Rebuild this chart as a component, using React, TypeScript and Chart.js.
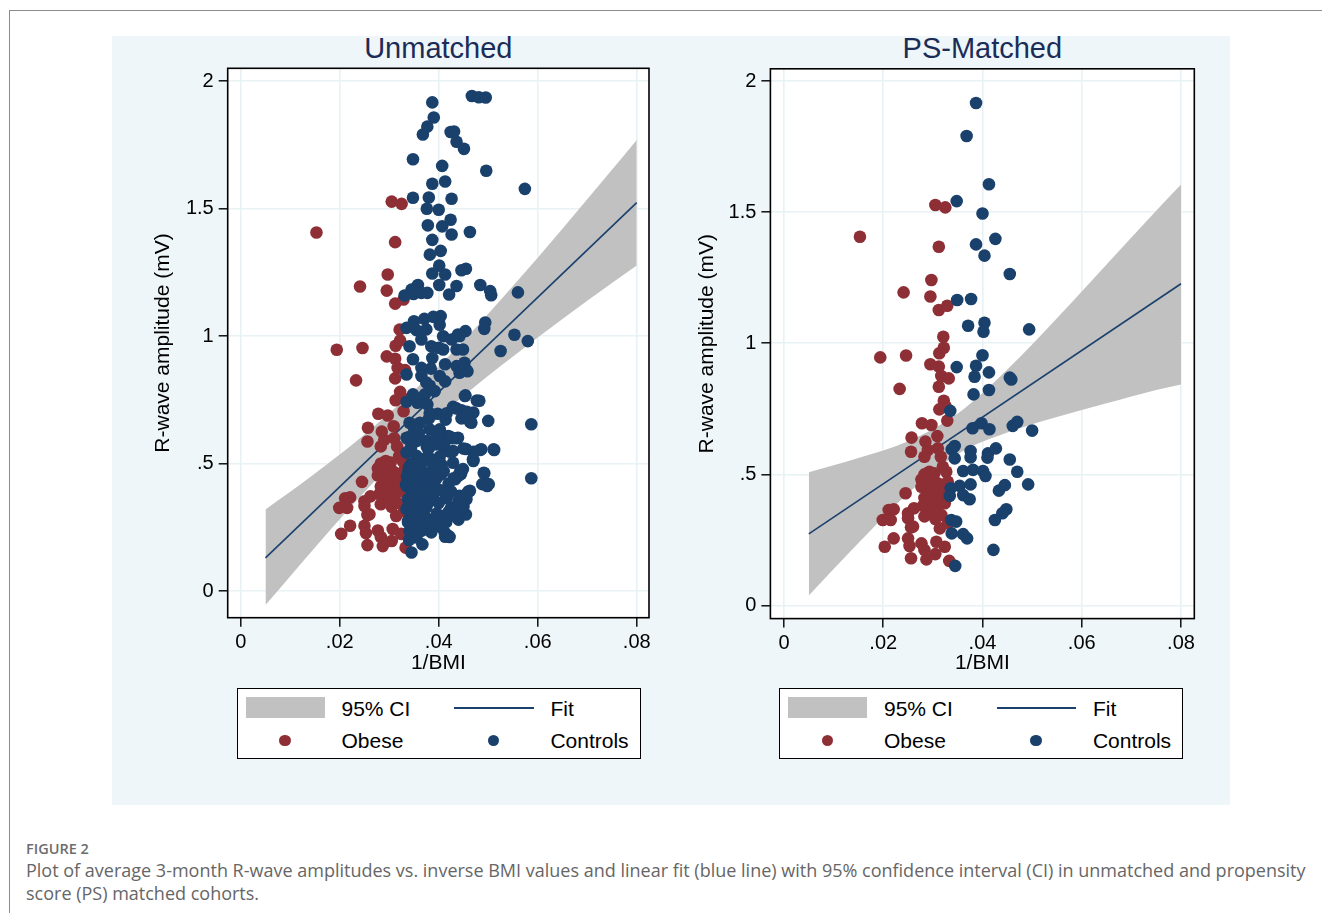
import React, { useEffect, useRef } from 'react';
import { Chart, registerables } from 'chart.js';

Chart.register(...registerables);

const FONT = '"Liberation Sans", Arial, Helvetica, sans-serif';
const NAVY = '#1a406c';
const MAROON = '#8e2f36';
const BAND = '#c1c1c1';
const GRID = '#e8f1f4';
const PANEL = '#eef6f9';

// ---- axis ticks ----
const xTicks = [0, 0.02, 0.04, 0.06, 0.08];
const yTicks = [0, 0.5, 1, 1.5, 2];

// ---- obese cohort (same in both panels) : [1/BMI, R-wave mV] ----
const obese: [number, number][] = [
  [0.0153, 1.406], [0.0305, 1.527], [0.0325, 1.518], [0.0312, 1.368], [0.0297, 1.241], [0.0241, 1.194],
  [0.0295, 1.178], [0.0312, 1.127], [0.0329, 1.143], [0.0321, 1.025], [0.0322, 0.983], [0.0313, 0.962],
  [0.0194, 0.946], [0.0246, 0.953], [0.0295, 0.92], [0.0312, 0.911], [0.0317, 0.875], [0.0332, 0.866],
  [0.0312, 0.834], [0.0233, 0.826], [0.0322, 0.781], [0.0326, 0.758], [0.0313, 0.748], [0.0329, 0.705],
  [0.0278, 0.695], [0.0297, 0.688], [0.0257, 0.64], [0.0309, 0.646], [0.0285, 0.625], [0.029, 0.593],
  [0.0256, 0.586], [0.031, 0.599], [0.0283, 0.567], [0.0316, 0.567], [0.032, 0.529], [0.0303, 0.504],
  [0.0327, 0.51], [0.0293, 0.51], [0.0277, 0.481], [0.029, 0.466], [0.031, 0.466], [0.033, 0.472],
  [0.0277, 0.453], [0.0317, 0.44], [0.029, 0.428], [0.031, 0.415], [0.033, 0.415], [0.0245, 0.428],
  [0.029, 0.39], [0.031, 0.377], [0.0324, 0.39], [0.029, 0.364], [0.0317, 0.345], [0.0211, 0.364],
  [0.0221, 0.367], [0.0199, 0.326], [0.0215, 0.326], [0.025, 0.352], [0.0262, 0.371], [0.025, 0.333],
  [0.0256, 0.298], [0.026, 0.301], [0.0314, 0.294], [0.033, 0.313], [0.0221, 0.256], [0.025, 0.256],
  [0.0203, 0.224], [0.0253, 0.227], [0.0277, 0.237], [0.0283, 0.212], [0.0307, 0.243], [0.0324, 0.224],
  [0.0256, 0.18], [0.0287, 0.176], [0.0305, 0.196], [0.0333, 0.17], [0.0283, 0.5], [0.03, 0.485],
  [0.032, 0.455], [0.03, 0.445], [0.0283, 0.41], [0.03, 0.4], [0.032, 0.4], [0.028, 0.38],
  [0.03, 0.355], [0.0305, 0.33], [0.0283, 0.34],
];

// ---- controls kept after propensity-score matching ----
const controlsMatched: [number, number][] = [
  [0.0387, 1.916], [0.0368, 1.79], [0.0413, 1.606], [0.0348, 1.542], [0.04, 1.495], [0.0426, 1.398],
  [0.0387, 1.377], [0.0404, 1.334], [0.0455, 1.264], [0.0349, 1.165], [0.0377, 1.169], [0.0371, 1.067],
  [0.0404, 1.078], [0.0402, 1.044], [0.0494, 1.053], [0.04, 0.954], [0.0348, 0.909], [0.0387, 0.914],
  [0.0384, 0.872], [0.0413, 0.889], [0.0455, 0.869], [0.0458, 0.862], [0.0382, 0.805], [0.0413, 0.822],
  [0.0335, 0.742], [0.038, 0.676], [0.0398, 0.695], [0.0414, 0.672], [0.0461, 0.685], [0.047, 0.7],
  [0.05, 0.667], [0.0344, 0.608], [0.0338, 0.596], [0.0344, 0.561], [0.0376, 0.589], [0.0376, 0.565],
  [0.0411, 0.58], [0.0427, 0.599], [0.041, 0.564], [0.0455, 0.557], [0.0361, 0.513], [0.0381, 0.517],
  [0.0401, 0.513], [0.0406, 0.494], [0.047, 0.51], [0.0492, 0.462], [0.0336, 0.447], [0.0354, 0.456],
  [0.0376, 0.462], [0.0361, 0.421], [0.0374, 0.405], [0.0334, 0.418], [0.0433, 0.438], [0.0445, 0.459],
  [0.0448, 0.367], [0.044, 0.352], [0.0425, 0.326], [0.0337, 0.326], [0.0347, 0.32], [0.0338, 0.275],
  [0.0361, 0.272], [0.0369, 0.256], [0.0422, 0.212], [0.0345, 0.151],
];

// ---- controls only present in the unmatched cohort ----
const controlsExtra: [number, number][] = [
  [0.0467, 1.941], [0.0481, 1.936], [0.0495, 1.935], [0.039, 1.857], [0.0377, 1.821], [0.0424, 1.8],
  [0.0431, 1.802], [0.0436, 1.762], [0.0451, 1.734], [0.0348, 1.693], [0.0407, 1.667], [0.0496, 1.648],
  [0.0574, 1.577], [0.0387, 1.597], [0.038, 1.543], [0.0426, 1.538], [0.0376, 1.499], [0.0378, 1.434],
  [0.0407, 1.43], [0.0424, 1.456], [0.0463, 1.408], [0.0382, 1.319], [0.0401, 1.276], [0.0413, 1.241],
  [0.0387, 1.245], [0.0401, 1.2], [0.0446, 1.258], [0.0484, 1.2], [0.0504, 1.176], [0.0506, 1.16],
  [0.056, 1.171], [0.0436, 1.196], [0.0421, 1.163], [0.0331, 1.159], [0.0345, 1.182], [0.0358, 1.2],
  [0.0365, 1.169], [0.035, 1.058], [0.0389, 1.075], [0.0492, 1.028], [0.0454, 1.019], [0.0439, 1.006],
  [0.0553, 1.005], [0.058, 0.98], [0.0525, 0.941], [0.0335, 1.032], [0.0355, 1.023], [0.0375, 1.026],
  [0.0409, 0.999], [0.0426, 0.986], [0.0442, 0.999], [0.0341, 0.96], [0.0365, 0.986], [0.0385, 0.96],
  [0.0409, 0.947], [0.0436, 0.947], [0.0449, 0.947], [0.0365, 0.875], [0.0436, 0.882], [0.0335, 0.849],
  [0.0365, 0.843], [0.0375, 0.817], [0.0402, 0.843], [0.0442, 0.856], [0.0452, 0.895], [0.0348, 0.771],
  [0.0372, 0.771], [0.0392, 0.784], [0.0357, 0.738], [0.0377, 0.732], [0.0454, 0.767], [0.0477, 0.747],
  [0.0429, 0.722], [0.0446, 0.709], [0.0466, 0.66], [0.0587, 0.654], [0.0341, 0.66], [0.0362, 0.66],
  [0.0382, 0.634], [0.0402, 0.634], [0.0419, 0.608], [0.0439, 0.601], [0.0335, 0.601], [0.0355, 0.588],
  [0.0395, 0.575], [0.0429, 0.549], [0.0469, 0.516], [0.0486, 0.556], [0.0511, 0.556], [0.0335, 0.543],
  [0.0355, 0.53], [0.0378, 0.53], [0.0429, 0.503], [0.0389, 0.49], [0.0338, 0.464], [0.0362, 0.47],
  [0.0385, 0.457], [0.0405, 0.457], [0.0439, 0.451], [0.0488, 0.419], [0.0501, 0.419], [0.0587, 0.442],
  [0.0335, 0.412], [0.0355, 0.412], [0.0375, 0.399], [0.0338, 0.36], [0.0362, 0.36], [0.0389, 0.373],
  [0.0415, 0.367], [0.0442, 0.373], [0.0463, 0.393], [0.0456, 0.36], [0.0335, 0.321], [0.0355, 0.308],
  [0.0375, 0.328], [0.0402, 0.295], [0.0419, 0.308], [0.0439, 0.334], [0.0338, 0.269], [0.0362, 0.282],
  [0.0389, 0.282], [0.0341, 0.236], [0.0365, 0.236], [0.0412, 0.23], [0.0419, 0.217], [0.0367, 0.183],
  [0.0345, 0.5], [0.0365, 0.5], [0.034, 0.485], [0.035, 0.44], [0.037, 0.43], [0.0345, 0.39],
  [0.0365, 0.38], [0.034, 0.34], [0.036, 0.335], [0.038, 0.35], [0.035, 0.295], [0.037, 0.3],
  [0.0345, 0.255], [0.036, 0.26], [0.039, 0.255], [0.038, 0.42], [0.0395, 0.44], [0.0395, 0.4],
  [0.04, 0.345], [0.038, 0.56], [0.0395, 0.6], [0.036, 0.62], [0.035, 0.64], [0.041, 0.47],
  [0.042, 0.42], [0.0425, 0.39], [0.043, 0.3], [0.044, 0.28], [0.0455, 0.3], [0.045, 0.33],
  [0.0415, 0.27], [0.0405, 0.25], [0.0385, 0.23], [0.0355, 0.21], [0.034, 0.2], [0.0446, 0.321],
  [0.0449, 0.478], [0.0453, 0.765], [0.0482, 0.746], [0.0512, 0.553], [0.0483, 0.553], [0.047, 0.514],
  [0.0491, 0.464], [0.0498, 0.412], [0.0443, 0.468], [0.043, 0.442], [0.046, 0.39], [0.0453, 0.364],
  [0.044, 0.305], [0.0413, 0.213], [0.0382, 0.697], [0.0416, 0.697], [0.0436, 0.716], [0.0457, 0.703],
  [0.0467, 0.697], [0.0446, 0.677], [0.0463, 0.664], [0.0402, 0.631], [0.0423, 0.605], [0.0436, 0.599],
  [0.045, 0.559], [0.047, 0.546], [0.0423, 0.546], [0.0402, 0.527], [0.0382, 0.514], [0.0402, 0.396],
  [0.0416, 0.364], [0.0443, 0.37], [0.0457, 0.383], [0.0396, 0.304], [0.0423, 0.317], [0.0436, 0.291],
  [0.0382, 0.265], [0.0402, 0.278],
];

// ---- linear fit and 95% CI ----
const fitX = [0.005, 0.08];
const fitUnmatched = [0.13, 1.523];
const fitMatched = [0.273, 1.227];

const ciX = [0.005, 0.015, 0.025, 0.035, 0.045, 0.055, 0.065, 0.075, 0.08];
const ciUpperUnmatched = [0.32, 0.461, 0.614, 0.785, 0.981, 1.196, 1.421, 1.652, 1.769];
const ciLowerUnmatched = [-0.055, 0.171, 0.388, 0.589, 0.765, 0.92, 1.067, 1.208, 1.276];
const ciUpperMatched = [0.508, 0.562, 0.626, 0.732, 0.9, 1.095, 1.3, 1.505, 1.605];
const ciLowerMatched = [0.038, 0.238, 0.428, 0.578, 0.66, 0.719, 0.771, 0.822, 0.843];

const fmt = (v: number) => (v === 0 ? '0' : String(Number(v.toFixed(4))).replace(/^0\./, '.'));

const toXY = (arr: [number, number][]) => arr.map(([x, y]) => ({ x, y }));
const zipXY = (xs: number[], ys: number[]) => xs.map((x, i) => ({ x, y: ys[i] }));

const boxPlugin = {
  id: 'plotBox',
  beforeDraw(chart: any) {
    const { ctx, chartArea } = chart;
    const { left, top, right, bottom } = chartArea;
    ctx.save();
    ctx.fillStyle = '#ffffff';
    ctx.fillRect(left, top, right - left, bottom - top);
    ctx.restore();
  },
  afterDatasetsDraw(chart: any) {
    const { ctx, chartArea } = chart;
    const { left, top, right, bottom } = chartArea;
    ctx.save();
    ctx.strokeStyle = '#000000';
    ctx.lineWidth = 1.6;
    ctx.strokeRect(left, top, right - left, bottom - top);
    ctx.restore();
  },
};

type PanelProps = {
  left: number; top: number; width: number; height: number;
  padTop: number; padRight: number; yAxisW: number; xAxisH: number; yTitlePad: number;
  xMin: number; xMax: number; yMin: number; yMax: number;
  controls: [number, number][];
  fit: number[]; ciUp: number[]; ciLo: number[];
};

function Panel(p: PanelProps) {
  const ref = useRef<HTMLCanvasElement | null>(null);
  useEffect(() => {
    if (!ref.current) return;
    const tickFont = { family: FONT, size: 20 };
    const titleFont = { family: FONT, size: 21 };
    const chart = new Chart(ref.current, {
      type: 'scatter',
      data: {
        datasets: [
          {
            label: 'Controls', data: toXY(p.controls), backgroundColor: NAVY, borderColor: NAVY,
            borderWidth: 0, pointRadius: 6.3, order: 0,
          } as any,
          {
            label: 'Obese', data: toXY(obese), backgroundColor: MAROON, borderColor: MAROON,
            borderWidth: 0, pointRadius: 6.3, order: 1,
          } as any,
          {
            type: 'line', label: 'Fit', data: zipXY(fitX, p.fit), borderColor: NAVY, borderWidth: 1.6,
            pointRadius: 0, fill: false, order: 2,
          } as any,
          {
            type: 'line', label: '95% CI', data: zipXY(ciX, p.ciUp), borderColor: 'rgba(0,0,0,0)', borderWidth: 0,
            backgroundColor: BAND, pointRadius: 0, fill: '+1', cubicInterpolationMode: 'monotone', order: 3,
          } as any,
          {
            type: 'line', label: 'CI lower', data: zipXY(ciX, p.ciLo), borderColor: 'rgba(0,0,0,0)', borderWidth: 0,
            pointRadius: 0, fill: false, cubicInterpolationMode: 'monotone', order: 4,
          } as any,
        ],
      },
      options: {
        animation: false,
        responsive: false,
        events: [],
        layout: { padding: { left: 0, top: p.padTop, right: p.padRight, bottom: 0 }, autoPadding: false } as any,
        plugins: { legend: { display: false }, tooltip: { enabled: false }, title: { display: false } },
        scales: {
          x: {
            type: 'linear', min: p.xMin, max: p.xMax,
            afterBuildTicks: (s: any) => { s.ticks = xTicks.map((v) => ({ value: v })); },
            afterFit: (s: any) => { s.height = p.xAxisH; },
            ticks: { callback: (v: any) => fmt(Number(v)), font: tickFont, color: '#000', padding: 4, maxRotation: 0, autoSkip: false },
            grid: { color: GRID, lineWidth: 1.6, tickLength: 9, tickColor: '#000', tickWidth: 1.4, drawTicks: true },
            border: { display: false },
            title: { display: true, text: '1/BMI', font: titleFont, color: '#000', padding: { top: 0, bottom: 0 } },
          },
          y: {
            type: 'linear', min: p.yMin, max: p.yMax,
            afterBuildTicks: (s: any) => { s.ticks = yTicks.map((v) => ({ value: v })); },
            afterFit: (s: any) => { s.width = p.yAxisW; },
            ticks: { callback: (v: any) => fmt(Number(v)), font: tickFont, color: '#000', padding: 5, autoSkip: false },
            grid: { color: GRID, lineWidth: 1.6, tickLength: 9, tickColor: '#000', tickWidth: 1.4, drawTicks: true },
            border: { display: false },
            title: { display: true, text: 'R-wave amplitude (mV)', font: titleFont, color: '#000', padding: { top: p.yTitlePad, bottom: 0 } },
          },
        },
      } as any,
      plugins: [boxPlugin],
    });
    return () => chart.destroy();
  }, []);
  return (
    <canvas
      ref={ref}
      width={p.width}
      height={p.height}
      style={{ position: 'absolute', left: p.left, top: p.top, width: p.width, height: p.height }}
    />
  );
}

const txt = (extra: React.CSSProperties): React.CSSProperties => ({
  position: 'absolute', fontFamily: FONT, fontSize: 21, lineHeight: '24px', color: '#000', whiteSpace: 'nowrap', ...extra,
});

function Legend({ dx }: { dx: number }) {
  return (
    <>
      <div style={{ position: 'absolute', left: 236.6 + dx, top: 688.3, width: 404, height: 71, boxSizing: 'border-box', border: '1.5px solid #000', background: '#fff' }} />
      <div style={{ position: 'absolute', left: 245.5 + dx, top: 697.3, width: 79, height: 21, background: BAND }} />
      <div style={txt({ left: 341.5 + dx, top: 697 })}>95% CI</div>
      <div style={{ position: 'absolute', left: 454 + dx, top: 706.7, width: 79.5, height: 2, background: NAVY }} />
      <div style={txt({ left: 550.4 + dx, top: 697 })}>Fit</div>
      <div style={{ position: 'absolute', left: 284.8 - 5.8 + dx, top: 740.7 - 5.8, width: 11.6, height: 11.6, borderRadius: '50%', background: MAROON }} />
      <div style={txt({ left: 341.5 + dx, top: 729 })}>Obese</div>
      <div style={{ position: 'absolute', left: 493.3 - 5.8 + dx, top: 740.7 - 5.8, width: 11.6, height: 11.6, borderRadius: '50%', background: NAVY }} />
      <div style={txt({ left: 550.4 + dx, top: 729 })}>Controls</div>
    </>
  );
}

export default function App() {
  return (
    <div style={{ position: 'absolute', left: 0, top: 0, width: 1322, height: 913, overflow: 'hidden', background: '#fff' }}>
      <div style={{ position: 'absolute', left: 9, top: 10, width: 1313, height: 1, background: '#8c8c8c' }} />
      <div style={{ position: 'absolute', left: 9, top: 10, width: 1, height: 903, background: '#8c8c8c' }} />
      <div style={{ position: 'absolute', left: 112, top: 36, width: 1118, height: 769, background: PANEL }} />

      <div style={{ position: 'absolute', left: 227.7, width: 421.3, top: 30.6, textAlign: 'center', fontFamily: FONT, fontSize: 29, lineHeight: '34.8px', color: '#1b2c57' }}>Unmatched</div>
      <div style={{ position: 'absolute', left: 770.4, width: 423.9, top: 30.6, textAlign: 'center', fontFamily: FONT, fontSize: 29, lineHeight: '34.8px', color: '#1b2c57' }}>PS-Matched</div>

      <Panel
        left={112} top={36} width={560} height={640}
        padTop={32.3} padRight={23} yAxisW={115.7} xAxisH={58.3} yTitlePad={39}
        xMin={-0.00263} xMax={0.08248} yMin={-0.1047} yMax={2.0498}
        controls={controlsMatched.concat(controlsExtra)}
        fit={fitUnmatched} ciUp={ciUpperUnmatched} ciLo={ciLowerUnmatched}
      />
      <Panel
        left={672} top={36} width={558} height={640}
        padTop={32.8} padRight={35.7} yAxisW={98.4} xAxisH={57.4} yTitlePad={23}
        xMin={-0.00274} xMax={0.08268} yMin={-0.04995} yMax={2.0465}
        controls={controlsMatched}
        fit={fitMatched} ciUp={ciUpperMatched} ciLo={ciLowerMatched}
      />

      <Legend dx={0} />
      <Legend dx={542.5} />

      <div style={{ position: 'absolute', left: 26, top: 839.3, fontFamily: '"Open Sans", sans-serif', fontWeight: 600, fontSize: 14.5, lineHeight: '19px', color: '#6d6d6d', whiteSpace: 'nowrap' }}>FIGURE 2</div>
      <div style={{ position: 'absolute', left: 26, top: 858.6, fontFamily: '"Open Sans", sans-serif', fontSize: 18, lineHeight: '23px', color: '#666666', whiteSpace: 'nowrap' }}>
        Plot of average 3-month R-wave amplitudes vs. inverse BMI values and linear fit (blue line) with 95% confidence interval (CI) in unmatched and propensity
        <br />
        score (PS) matched cohorts.
      </div>
    </div>
  );
}
